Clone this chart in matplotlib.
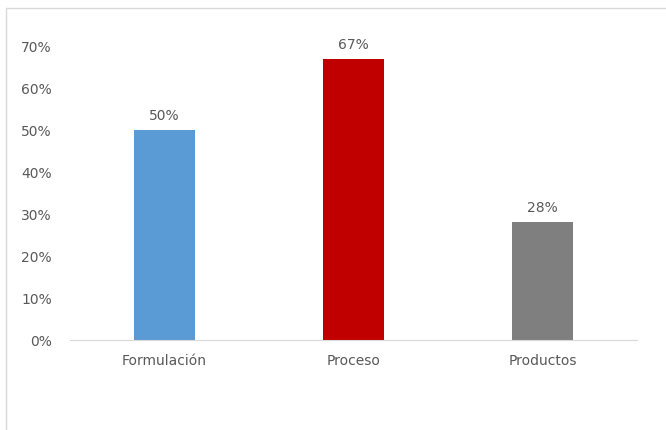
import matplotlib.pyplot as plt
from matplotlib.patches import Rectangle
from matplotlib.ticker import PercentFormatter

categories = ["Formulación", "Proceso", "Productos"]
values = [50, 67, 28]
colors = ["#5B9BD5", "#C00000", "#7F7F7F"]
yticks = [0, 10, 20, 30, 40, 50, 60, 70]

text_color = "#595959"

fig = plt.figure(figsize=(6.66, 4.30), dpi=100)
ax = fig.add_axes([70 / 666, 1 - 340 / 430, 567 / 666, 294 / 430])

# outer chart frame, runs off the right and bottom edges
fig.patches.append(Rectangle((6 / 666, -0.1), 2, (430 - 8) / 430 + 0.1,
                             transform=fig.transFigure, fill=False,
                             edgecolor="#D9D9D9", linewidth=1))

x = range(len(categories))
bars = ax.bar(x, values, width=0.32, color=colors)

for b, v in zip(bars, values):
    ax.annotate(f"{v}%", (b.get_x() + b.get_width() / 2, v),
                xytext=(0, 5), textcoords="offset points",
                ha="center", va="bottom", fontsize=10, color=text_color)

ax.set_xlim(-0.5, len(categories) - 0.5)
ax.set_ylim(0, 70)
ax.set_yticks(yticks)
ax.yaxis.set_major_formatter(PercentFormatter(decimals=0))
ax.set_xticks(list(x))
ax.set_xticklabels(categories)

for s in ["top", "right", "left"]:
    ax.spines[s].set_visible(False)
ax.spines["bottom"].set_color("#D9D9D9")
ax.tick_params(axis="both", length=0, labelsize=10, labelcolor=text_color)
ax.tick_params(axis="y", pad=13)
ax.tick_params(axis="x", pad=10)

fig.savefig("out.png", dpi=100)
